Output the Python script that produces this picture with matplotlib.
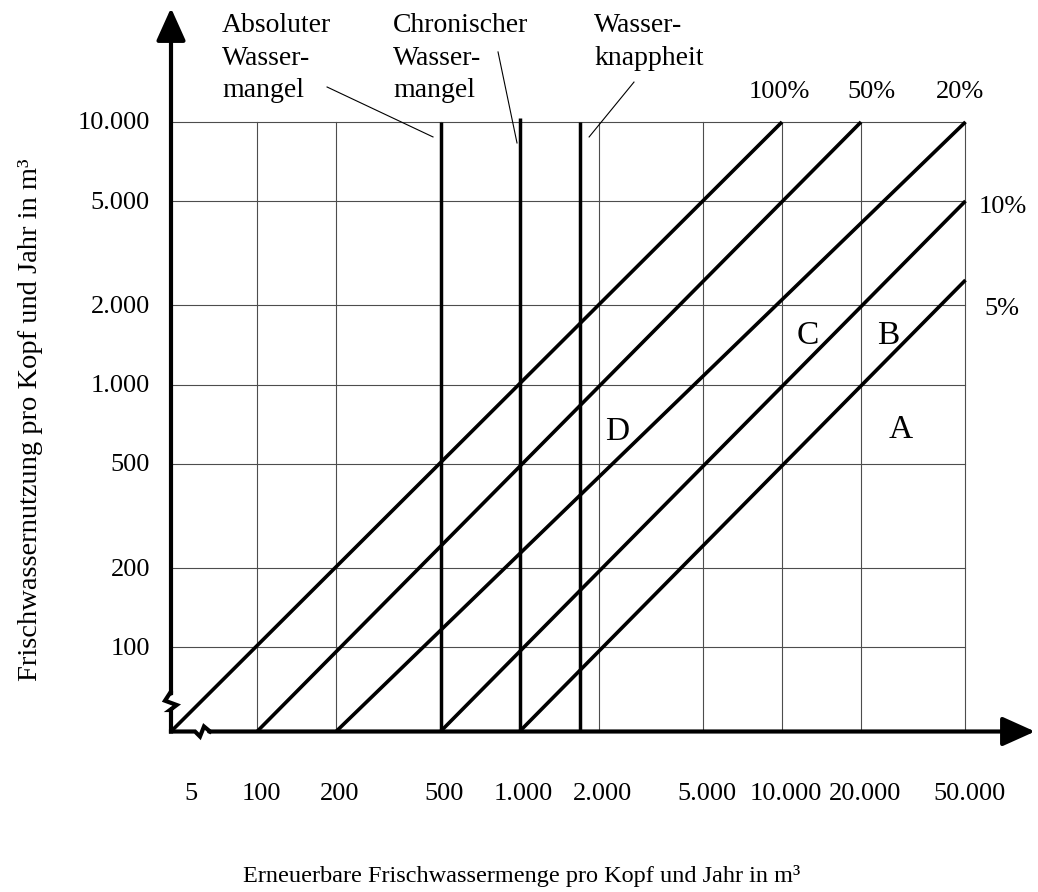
import matplotlib
matplotlib.use('Agg')
import matplotlib.pyplot as plt

plt.rcParams['font.family'] = ['Liberation Serif', 'DejaVu Serif']

# ---------------- data ----------------
x_ticks = [100, 200, 500, 1000, 2000, 5000, 10000, 20000, 50000]
x_tick_labels = ['100', '200', '500', '1.000', '2.000', '5.000', '10.000', '20.000', '50.000']
x_origin_label = '5'
y_ticks = [100, 200, 500, 1000, 2000, 5000, 10000]
y_tick_labels = ['100', '200', '500', '1.000', '2.000', '5.000', '10.000']

share_labels = ['100%', '50%', '20%', '10%', '5%']
share_ratio = [1.0, 0.5, 0.2, 0.1, 0.05]
line_start_x = [47, 100, 200, 500, 1000]
line_end_x = [10000, 20000, 50000, 50000, 50000]

thresholds = [500, 1000, 1700]
threshold_top = [10000, 10400, 10000]
threshold_names = ['Absoluter\nWasser-\nmangel', 'Chronischer\nWasser-\nmangel', 'Wasser-\nknappheit']

zone_letters = ['A', 'B', 'C', 'D']

x_label = 'Erneuerbare Frischwassermenge pro Kopf und Jahr in m³'
y_label = 'Frischwassernutzung pro Kopf und Jahr in m³'

# ---------------- figure ----------------
W, H = 1038, 892
fig = plt.figure(figsize=(W / 100, H / 100), dpi=100)
ox, oy = 171, 731.5       # origin in pixels (from top)
rx, ty = 1035, 8          # arrow tips
ax = fig.add_axes([ox / W, (H - oy) / H, (rx - ox) / W, (oy - ty) / H])
ax.set_xscale('log')
ax.set_yscale('log')
XL, YL = 47.0, 47.7
ax.set_xlim(XL, 92000)
ax.set_ylim(YL, 27170)
ax.axis('off')

AW, AH = rx - ox, oy - ty
def px(dx, dy):
    return dx / AW, dy / AH

# grid
gc = '0.3'
for xv in x_ticks:
    ax.plot([xv, xv], [YL, y_ticks[-1]], color=gc, lw=0.8, zorder=1)
for yv in y_ticks:
    ax.plot([XL, x_ticks[-1]], [yv, yv], color=gc, lw=0.8, zorder=1)

# diagonal share lines
for r, xs, xe in zip(share_ratio, line_start_x, line_end_x):
    ax.plot([xs, xe], [YL, r * xe], color='black', lw=2.6, zorder=3,
            solid_capstyle='butt')

# threshold verticals
for xv, top in zip(thresholds, threshold_top):
    ax.plot([xv, xv], [YL, top], color='black', lw=2.5, zorder=3,
            solid_capstyle='butt')

# axes with breaks and arrows
lw_ax = 3.0
ybreak = [px(0, 0), px(0, 21.5), px(-1, 21.5), px(5.7, 26.5), px(-6, 30.8), px(-1, 38.5), px(0, 38.5)]
ax.plot([p[0] for p in ybreak], [p[1] for p in ybreak], transform=ax.transAxes,
        color='black', lw=lw_ax, clip_on=False, solid_joinstyle='miter', zorder=5)
xbreak = [px(0, 0), px(24, 0), px(29, -5), px(33, 5), px(39, 0)]
ax.plot([p[0] for p in xbreak], [p[1] for p in xbreak], transform=ax.transAxes,
        color='black', lw=lw_ax, clip_on=False, solid_joinstyle='miter', zorder=5)
arrow = dict(arrowstyle='-|>,head_length=1.0,head_width=0.45', mutation_scale=20,
             lw=lw_ax, color='black', shrinkA=0, shrinkB=0)
ax.annotate('', xy=(0, 1), xycoords='axes fraction', xytext=px(0, 38), textcoords='axes fraction',
            arrowprops=arrow, zorder=5)
ax.annotate('', xy=(1, 0), xycoords='axes fraction', xytext=px(38, 0), textcoords='axes fraction',
            arrowprops=arrow, zorder=5)

FS = 19
# tick labels
for xv, lab in zip(x_ticks, x_tick_labels):
    ax.annotate(lab, xy=(xv, YL), xycoords='data', xytext=(4, -63), textcoords='offset pixels',
                ha='center', va='center', fontsize=FS)
ax.annotate(x_origin_label, xy=(XL, YL), xycoords='data', xytext=(20, -63), textcoords='offset pixels',
            ha='center', va='center', fontsize=FS)
for yv, lab in zip(y_ticks, y_tick_labels):
    ax.annotate(lab, xy=(XL, yv), xycoords='data', xytext=(-21, 1), textcoords='offset pixels',
                ha='right', va='center_baseline', fontsize=FS)

# axis titles
fig.text(522 / W, 1 - 876 / H, x_label, ha='center', va='center', fontsize=17.5)
fig.text(31 / W, 1 - 420 / H, y_label, ha='center', va='center', rotation=90, fontsize=20.5)

# share labels
share_pos = [(9750, 13240), (22000, 13240), (47600, 13240), (69500, 4870), (68800, 1991)]
for lab, (xv, yv) in zip(share_labels, share_pos):
    ax.text(xv, yv, lab, ha='center', va='center_baseline', fontsize=FS)

# zone letters
letter_pos = [(28400, 695), (25350, 1585), (12570, 1585), (2351, 683)]
for lab, (xv, yv) in zip(zone_letters, letter_pos):
    ax.text(xv, yv, lab, ha='center', va='center_baseline', fontsize=24)

# threshold annotations
name_pos = [(73.6, 26000), (329.6, 26000), (1923, 26000)]
leaders = [((184.8, 13590), (468, 8770)), ((828, 18480), (978, 8320)), ((2729, 14190), (1841, 8770))]
for name, (xv, yv), (p0, p1) in zip(threshold_names, name_pos, leaders):
    ax.text(xv, yv, name, ha='left', va='top', fontsize=20, linespacing=1.4)
    ax.plot([p0[0], p1[0]], [p0[1], p1[1]], color='black', lw=0.8, clip_on=False)

fig.savefig('out.png', dpi=100)
